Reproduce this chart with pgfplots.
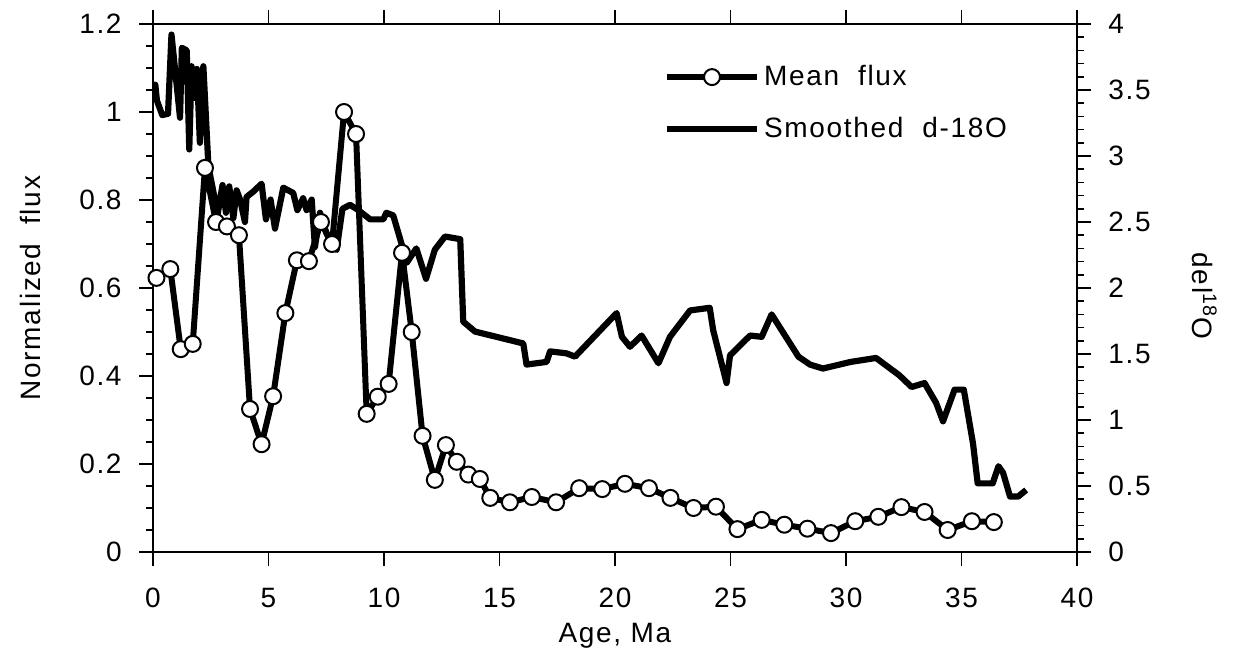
\documentclass[border=0pt,12pt]{standalone}
\usepackage{fontspec}
\setmainfont[LetterSpace=6]{Liberation Sans}
\usepackage{pgfplots}
\pgfplotsset{compat=1.18}

\pgfplotstableread{
x y
0.15 0.623
0.75 0.643
1.2 0.461
1.72 0.473
2.25 0.873
2.73 0.75
3.2 0.74
3.72 0.72
4.2 0.325
4.7 0.245
5.2 0.354
5.73 0.543
6.23 0.663
6.75 0.661
7.27 0.75
7.75 0.70
8.27 1.0
8.79 0.95
9.25 0.314
9.73 0.353
10.2 0.382
10.78 0.68
11.2 0.50
11.67 0.264
12.2 0.164
12.68 0.243
13.15 0.205
13.65 0.176
14.15 0.166
14.6 0.123
15.45 0.113
16.4 0.125
17.45 0.113
18.45 0.145
19.45 0.143
20.43 0.155
21.47 0.145
22.4 0.123
23.4 0.10
24.37 0.103
25.3 0.052
26.35 0.073
27.33 0.062
28.33 0.053
29.35 0.043
30.4 0.07
31.4 0.08
32.4 0.102
33.4 0.091
34.4 0.05
35.45 0.07
36.4 0.068
}\fluxtable

\pgfplotstableread{
x y
0.0 3.54
0.1 3.54
0.17 3.42
0.4 3.31
0.65 3.32
0.8 3.92
1.0 3.58
1.17 3.29
1.25 3.82
1.46 3.80
1.57 3.05
1.67 3.68
1.8 3.44
1.9 3.66
2.03 3.10
2.18 3.68
2.4 2.92
2.68 2.67
2.78 2.54
3.01 2.78
3.16 2.57
3.30 2.77
3.48 2.53
3.62 2.74
3.77 2.67
3.98 2.50
4.05 2.69
4.34 2.73
4.7 2.79
4.89 2.52
5.09 2.67
5.28 2.45
5.64 2.76
6.07 2.72
6.25 2.59
6.5 2.68
6.65 2.59
6.87 2.67
7.01 2.31
7.23 2.57
7.52 2.41
7.95 2.29
8.2 2.60
8.53 2.63
8.89 2.59
9.4 2.52
9.97 2.52
10.1 2.57
10.4 2.55
10.8 2.31
10.98 2.19
11.4 2.30
11.82 2.07
12.2 2.29
12.64 2.39
13.3 2.37
13.43 1.745
13.94 1.67
16.03 1.58
16.17 1.42
17.04 1.44
17.19 1.52
17.9 1.505
18.27 1.48
20.07 1.81
20.3 1.63
20.65 1.555
21.15 1.64
21.88 1.43
22.38 1.63
23.25 1.83
24.1 1.85
24.25 1.68
24.83 1.28
24.98 1.49
25.85 1.64
26.35 1.63
26.78 1.80
27.94 1.48
28.44 1.42
29.0 1.39
30.2 1.44
31.3 1.47
32.3 1.34
32.84 1.25
33.4 1.28
33.9 1.13
34.2 0.99
34.7 1.23
35.1 1.23
35.5 0.82
35.7 0.52
36.35 0.52
36.6 0.65
36.8 0.60
37.1 0.42
37.45 0.42
37.8 0.47
}\otable

\begin{document}
\begin{tikzpicture}
\pgfplotsset{
  common/.style={
    scale only axis, width=462pt, height=264pt,
    xmin=0, xmax=40,
    tick align=outside,
    major tick length=7pt, minor tick length=3.5pt,
    every tick/.style={line width=0.8pt, black},
    axis line style={line width=0.9pt},
    /pgf/number format/assume math mode=true,
    tick label style={font=\fontsize{14}{17}\selectfont},
    label style={font=\fontsize{14}{17}\selectfont},
    legend style={font=\fontsize{14}{17}\selectfont},
  },
  fluxstyle/.style={black, line width=3pt, line join=round, mark=*, mark size=4pt,
    mark options={fill=white, draw=black, line width=1pt, solid}},
}
\begin{axis}[common,
  ymin=0, ymax=4,
  axis x line=none, axis y line*=right,
  ytick={0,0.5,1,1.5,2,2.5,3,3.5,4}, minor y tick num=4,
  yticklabel style={xshift=4.5pt},
  ylabel={del\textsuperscript{18}O},
  ylabel style={at={(axis description cs:1.138,0.485)}, anchor=center, rotate=180},
  legend style={draw=none, fill=none, at={(axis description cs:0.546,0.938)}, anchor=north west, row sep=10pt},
  legend cell align=left,
  legend image code/.code={\draw[mark repeat=2,mark phase=2,#1] plot coordinates {(0pt,0pt) (22.5pt,0pt) (45pt,0pt)};},
]
\addlegendimage{fluxstyle}
\addlegendentry{Mean\ \ flux}
\addplot[black, line width=3.1pt, line join=round] table[x=x,y=y] {\otable};
\addlegendentry{Smoothed\ \ d-18O}
\end{axis}
\begin{axis}[common,
  ymin=0, ymax=1.2,
  xtick={0,5,10,15,20,25,30,35,40},
  ytick={0,0.2,0.4,0.6,0.8,1,1.2}, minor y tick num=3,
  xtick pos=both, ytick pos=left,
  xticklabel style={yshift=-7pt},
  yticklabel style={xshift=-4.5pt},
  xlabel={Age, Ma},
  xlabel style={at={(axis description cs:0.5,-0.158)}, anchor=center},
  ylabel={Normalized\ \ flux},
  ylabel style={at={(axis description cs:-0.133,0.5)}, anchor=center},
]
\addplot[fluxstyle] table[x=x,y=y] {\fluxtable};
\coordinate (bl) at (rel axis cs:0,0);
\coordinate (tr) at (rel axis cs:1,1);
\end{axis}
\pgfresetboundingbox
\path[use as bounding box] ([xshift=-76.5pt,yshift=-51.5pt]bl) rectangle ([xshift=80pt,yshift=12pt]tr);
\end{tikzpicture}
\end{document}
